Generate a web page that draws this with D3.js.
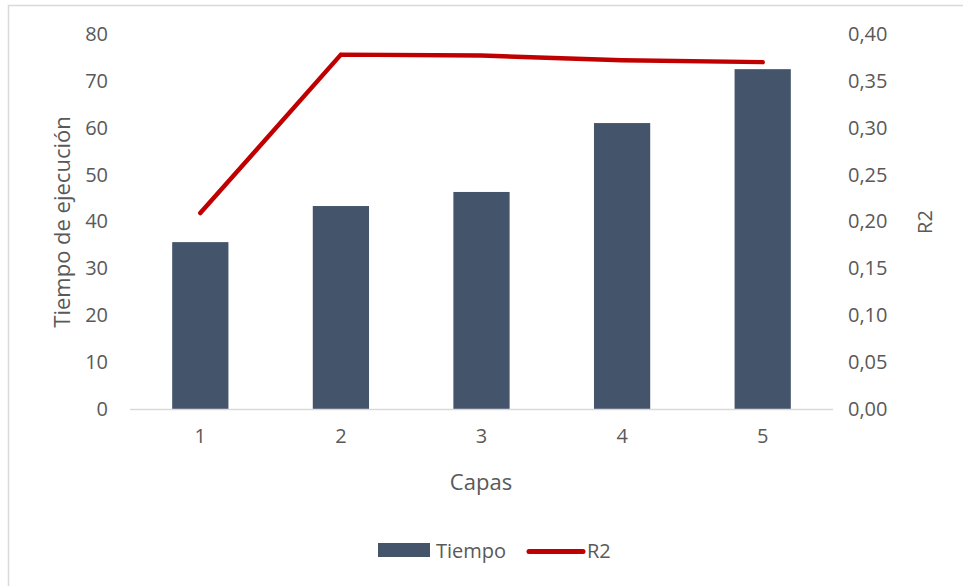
<!DOCTYPE html>
<html><head><meta charset="utf-8">
<script src="https://cdn.jsdelivr.net/npm/d3@7"></script>
<style>body{margin:0;background:#fff}svg{display:block}text{font-family:"Open Sans",sans-serif;fill:#595959}</style>
</head><body>
<svg id="c" width="963" height="586"></svg>
<script>
const categories = ["1","2","3","4","5"];
const tiempo = [35.6, 43.3, 46.3, 61.0, 72.5];
const r2 = [0.209, 0.378, 0.377, 0.372, 0.370];
const leftTicks = [0,10,20,30,40,50,60,70,80];
const rightTicks = [0,0.05,0.10,0.15,0.20,0.25,0.30,0.35,0.40];

(function(){
const svg = d3.select("#c");
svg.append("rect").attr("x",8.5).attr("y",5.5).attr("width",970).attr("height",600)
  .attr("fill","#fff").attr("stroke","#d9d9d9").attr("stroke-width",1.5);

const pLeft=130, pRight=833, pTop=34, pBottom=409;
const x = d3.scaleBand().domain(categories).range([pLeft,pRight]).paddingInner(0.6).paddingOuter(0.3);
const yL = d3.scaleLinear().domain([0,80]).range([pBottom,pTop]);
const yR = d3.scaleLinear().domain([0,0.40]).range([pBottom,pTop]);
const fs = 20, fsT = 22;

// bars
svg.append("g").selectAll("rect").data(tiempo).join("rect")
  .attr("x",(d,i)=>x(categories[i])).attr("width",x.bandwidth())
  .attr("y",d=>yL(d)).attr("height",d=>yL(0)-yL(d)).attr("fill","#44546a");

// baseline
svg.append("line").attr("x1",pLeft).attr("x2",pRight).attr("y1",pBottom+0.5).attr("y2",pBottom+0.5)
  .attr("stroke","#d9d9d9").attr("stroke-width",1.5);

// left axis
const gl = svg.append("g").attr("transform",`translate(${pLeft-22},0)`)
  .call(d3.axisLeft(yL).tickValues(leftTicks).tickSize(0).tickPadding(0).tickFormat(d3.format("d")));
gl.select(".domain").remove();
gl.selectAll("text").style("font-size",fs+"px").attr("fill","#595959");

// right axis
const fmtR = d => d3.format(".2f")(d).replace(".",",");
const gr = svg.append("g").attr("transform",`translate(${pRight+15},0)`)
  .call(d3.axisRight(yR).tickValues(rightTicks).tickSize(0).tickPadding(0).tickFormat(fmtR));
gr.select(".domain").remove();
gr.selectAll("text").style("font-size",fs+"px").attr("fill","#595959");

// x axis
const gx = svg.append("g").attr("transform",`translate(0,${pBottom+20})`)
  .call(d3.axisBottom(x).tickSize(0).tickPadding(0));
gx.select(".domain").remove();
gx.selectAll("text").style("font-size",fs+"px").attr("fill","#595959");

// line
const line = d3.line().x((d,i)=>x(categories[i])+x.bandwidth()/2).y(d=>yR(d));
svg.append("path").datum(r2).attr("d",line).attr("fill","none")
  .attr("stroke","#c00000").attr("stroke-width",4.5).attr("stroke-linecap","round").attr("stroke-linejoin","round");

// titles
svg.append("text").attr("x",481).attr("y",490).attr("text-anchor","middle").style("font-size",fsT+"px").text("Capas");
svg.append("text").attr("transform","translate(70,222) rotate(-90)").attr("text-anchor","middle").style("font-size",fsT+"px").text("Tiempo de ejecución");
svg.append("text").attr("transform","translate(932,222) rotate(-90)").attr("text-anchor","middle").style("font-size",fs+"px").text("R2");

// legend
const lg = svg.append("g");
lg.append("rect").attr("x",378).attr("y",543).attr("width",52).attr("height",14).attr("fill","#44546a");
lg.append("text").attr("x",436).attr("y",558).style("font-size",fs+"px").text("Tiempo");
lg.append("line").attr("x1",529).attr("x2",583).attr("y1",551.5).attr("y2",551.5)
  .attr("stroke","#c00000").attr("stroke-width",5).attr("stroke-linecap","round");
lg.append("text").attr("x",587).attr("y",558).style("font-size",fs+"px").text("R2");
})();
</script>
</body></html>
